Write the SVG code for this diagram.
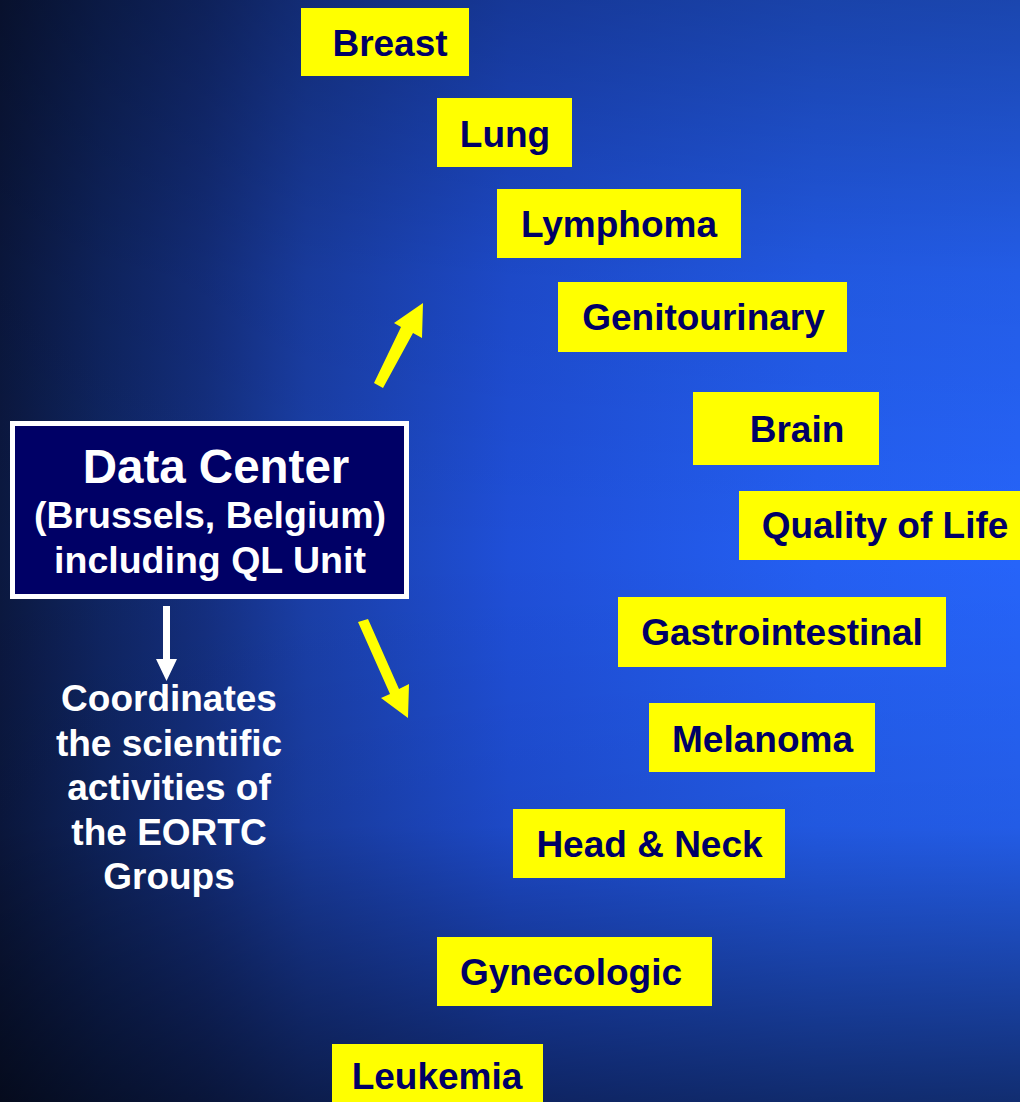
<svg xmlns="http://www.w3.org/2000/svg" width="1020" height="1102" viewBox="0 0 1020 1102">
<defs>
<linearGradient id="bgh" x1="0" y1="0" x2="1" y2="0">
<stop offset="0" stop-color="#0b1840"/>
<stop offset="0.1" stop-color="#0f2562"/>
<stop offset="0.2" stop-color="#142f80"/>
<stop offset="0.3" stop-color="#1a3fa8"/>
<stop offset="0.5" stop-color="#1f4fd8"/>
<stop offset="0.8" stop-color="#245ff2"/>
<stop offset="1" stop-color="#2664fa"/>
</linearGradient>
<linearGradient id="bgv" x1="0" y1="0" x2="0" y2="1">
<stop offset="0" stop-color="#000000" stop-opacity="0.3"/>
<stop offset="0.25" stop-color="#000000" stop-opacity="0.08"/>
<stop offset="0.5" stop-color="#000000" stop-opacity="0"/>
<stop offset="0.75" stop-color="#000000" stop-opacity="0.08"/>
<stop offset="1" stop-color="#000000" stop-opacity="0.55"/>
</linearGradient>
<style>
.box{fill:#ffff00;}
.lbl{font-family:"Liberation Sans",Arial,sans-serif;font-weight:bold;font-size:37px;fill:#000066;text-anchor:middle;}
.wt{font-family:"Liberation Sans",Arial,sans-serif;font-weight:bold;fill:#ffffff;text-anchor:middle;}
</style>
</defs>
<rect x="0" y="0" width="1020" height="1102" fill="url(#bgh)"/>
<rect x="0" y="0" width="1020" height="1102" fill="url(#bgv)"/>

<g id="data-center">
<rect x="12.5" y="423.5" width="394" height="173" fill="#000066" stroke="#ffffff" stroke-width="5"/>
<text class="wt" x="216" y="483" font-size="47.5">Data Center</text>
<text class="wt" x="210" y="528" font-size="37.5">(Brussels, Belgium)</text>
<text class="wt" x="210" y="573" font-size="37.5">including QL Unit</text>
</g>

<g id="coordinates">
<text class="wt" font-size="37"><tspan x="169" y="711">Coordinates</tspan><tspan x="169" y="756">the scientific</tspan><tspan x="169" y="800">activities of</tspan><tspan x="169" y="845">the EORTC</tspan><tspan x="169" y="889">Groups</tspan></text>
</g>

<g id="connectors">
<polygon points="163,606 170,606 170,659 177,659 166.5,681 156,659 163,659" fill="#ffffff"/>
<polygon points="374,383 401,327 394,323 423,303 422,338 413,333 383,388" fill="#ffff00"/>
<polygon points="358,622 368,619 399,689 409,684 408,718 381,698 390,694" fill="#ffff00"/>
</g>

<g id="breast"><rect class="box" x="301" y="8" width="168" height="68"/><text class="lbl" x="390" y="56">Breast</text></g>
<g id="lung"><rect class="box" x="437" y="98" width="135" height="69"/><text class="lbl" x="505" y="147">Lung</text></g>
<g id="lymphoma"><rect class="box" x="497" y="189" width="244" height="69"/><text class="lbl" x="619" y="237">Lymphoma</text></g>
<g id="genitourinary"><rect class="box" x="558" y="282" width="289" height="70"/><text class="lbl" x="703.5" y="330">Genitourinary</text></g>
<g id="brain"><rect class="box" x="693" y="392" width="186" height="73"/><text class="lbl" x="797" y="442">Brain</text></g>
<g id="quality-of-life"><rect class="box" x="739" y="491" width="281" height="69"/><text class="lbl" x="885" y="538">Quality of Life</text></g>
<g id="gastrointestinal"><rect class="box" x="618" y="597" width="328" height="70"/><text class="lbl" x="782" y="645">Gastrointestinal</text></g>
<g id="melanoma"><rect class="box" x="649" y="703" width="226" height="69"/><text class="lbl" x="762.5" y="752">Melanoma</text></g>
<g id="head-neck"><rect class="box" x="513" y="809" width="272" height="69"/><text class="lbl" x="649.5" y="857">Head &amp; Neck</text></g>
<g id="gynecologic"><rect class="box" x="437" y="937" width="275" height="69"/><text class="lbl" x="571" y="985">Gynecologic</text></g>
<g id="leukemia"><rect class="box" x="332" y="1044" width="211" height="70"/><text class="lbl" x="437" y="1089">Leukemia</text></g>
</svg>
